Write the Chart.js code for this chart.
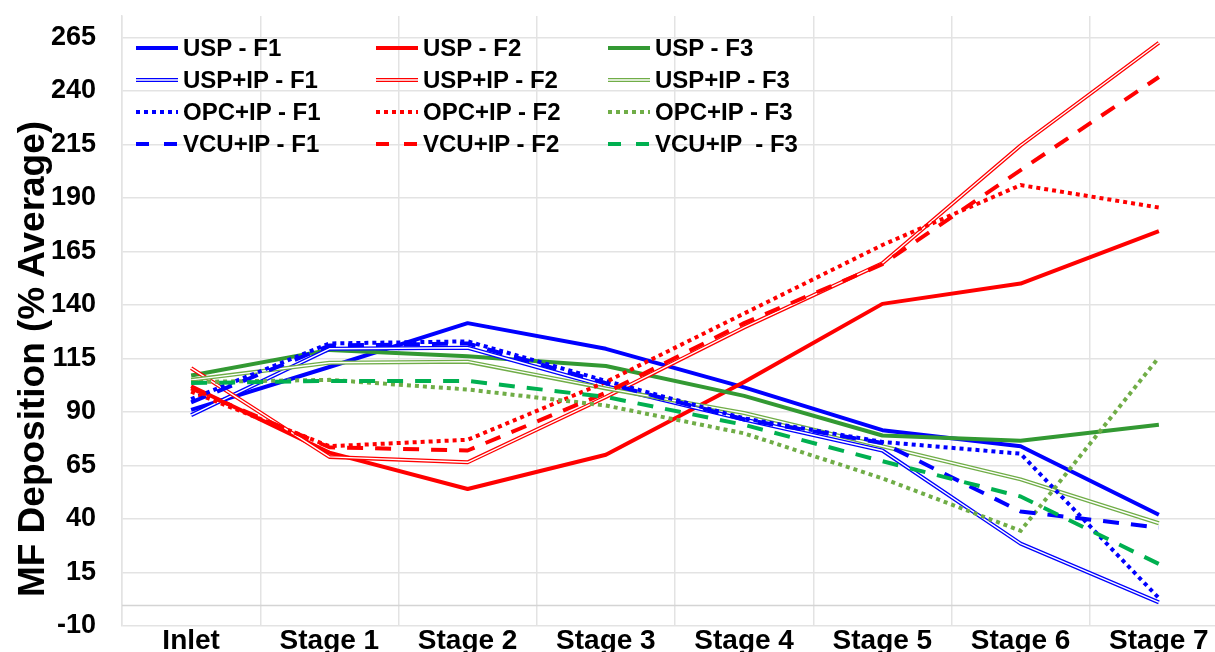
<!DOCTYPE html>
<html>
<head>
<meta charset="utf-8">
<title>MF Deposition</title>
<script src="https://cdn.jsdelivr.net/npm/chart.js@4.4.1/dist/chart.umd.min.js"></script>
<style>
html, body { margin: 0; padding: 0; background: #fff; overflow: hidden; }
#wrap { position: relative; width: 1228px; height: 652px; }
#legend {
    position: absolute; left: 136px; top: 32px;
    display: grid; grid-template-columns: 240px 232px 250px;
    font: bold 24px "Liberation Sans", Arial, sans-serif; color: #000;
}
.item { display: flex; align-items: center; height: 32px; white-space: pre; }
.item svg { margin-right: 5px; }
#ytitle {
    position: absolute; left: -269px; top: 339px; width: 600px; height: 40px;
    line-height: 40px; text-align: center; white-space: nowrap;
    font: bold 37px "Liberation Sans", Arial, sans-serif; color: #000;
    transform: rotate(-90deg);
}
</style>
</head>
<body>
<div id="wrap">
    <canvas id="chart" width="1228" height="652"></canvas>
    <div id="ytitle">MF Deposition (% Average)</div>
    <div id="legend"></div>
</div>
<script>
var stages = ["Inlet", "Stage 1", "Stage 2", "Stage 3", "Stage 4", "Stage 5", "Stage 6", "Stage 7"];
var yTicks = [-10, 15, 40, 65, 90, 115, 140, 165, 190, 215, 240, 265];

var uspF1   = [91, 111, 131.5, 119.5, 101.5, 81.5, 74, 42];
var uspF2   = [102, 71, 54, 70, 104, 140.5, 150, 174.5];
var uspF3   = [107, 119, 116, 111.5, 97.5, 79, 76.5, 84];
var uspIpF1 = [88.5, 119.5, 120, 102, 86.5, 72, 28.5, 1];
var uspIpF2 = [110.5, 69, 66.5, 97, 129.5, 159.5, 214.5, 262.5];
var uspIpF3 = [105, 113, 113.5, 101, 89.5, 74, 58.5, 38];
var opcIpF1 = [96, 122, 123, 104.5, 87, 76, 70.5, 3];
var opcIpF2 = [99.5, 74, 77, 104, 136, 168, 196, 185.5];
var opcIpF3 = [104, 105, 100.5, 93, 80, 59, 34.5, 115.5];
var vcuIpF1 = [94.5, 121, 122, 103.5, 86.5, 75.5, 43.5, 36];
var vcuIpF2 = [101, 73.5, 72, 99, 131.5, 159, 203, 246.5];
var vcuIpF3 = [103.5, 104.5, 104.5, 97, 84, 67, 50.5, 19];

var BLUE = "#0000ff", RED = "#ff0000", GREEN = "#339933", LGREEN = "#70ad47", EGREEN = "#00b050";
var gridColor = "#e3e3e3";

function series(label, data, color, style) {
    var ds = {
        label: label,
        data: data,
        borderColor: color,
        backgroundColor: color,
        borderWidth: 4,
        pointRadius: 0,
        tension: 0,
        borderJoinStyle: "round",
        lineStyle: style
    };
    if (style === "dot") { ds.borderDash = [4, 4]; ds.borderJoinStyle = "miter"; }
    if (style === "dash") { ds.borderDash = [16, 12]; }
    return ds;
}

var datasets = [
    series("USP - F1", uspF1, BLUE, "solid"),
    series("USP - F2", uspF2, RED, "solid"),
    series("USP - F3", uspF3, GREEN, "solid"),
    series("USP+IP - F1", uspIpF1, BLUE, "double"),
    series("USP+IP - F2", uspIpF2, RED, "double"),
    series("USP+IP - F3", uspIpF3, LGREEN, "double"),
    series("OPC+IP - F1", opcIpF1, BLUE, "dot"),
    series("OPC+IP - F2", opcIpF2, RED, "dot"),
    series("OPC+IP - F3", opcIpF3, LGREEN, "dot"),
    series("VCU+IP - F1", vcuIpF1, BLUE, "dash"),
    series("VCU+IP - F2", vcuIpF2, RED, "dash"),
    series("VCU+IP  - F3", vcuIpF3, EGREEN, "dash")
];
// first series at the bottom, like the original
datasets.forEach(function (ds, i) { ds.order = datasets.length - i; });

// white centre stroke makes the "double" lines
var doubleLinePlugin = {
    id: "doubleLine",
    afterDatasetDraw: function (chart, args) {
        var ds = chart.data.datasets[args.index];
        if (ds.lineStyle !== "double") return;
        var pts = args.meta.data;
        var ctx = chart.ctx;
        ctx.save();
        ctx.beginPath();
        for (var i = 0; i < pts.length; i++) {
            if (i === 0) ctx.moveTo(pts[i].x, pts[i].y);
            else ctx.lineTo(pts[i].x, pts[i].y);
        }
        ctx.strokeStyle = "#ffffff";
        ctx.lineWidth = 1.4;
        ctx.lineJoin = "round";
        ctx.stroke();
        ctx.restore();
    }
};

// horizontal axis line crosses at zero
var zeroLinePlugin = {
    id: "zeroLine",
    beforeDatasetsDraw: function (chart) {
        var y = Math.round(chart.scales.y.getPixelForValue(0)) + 0.5;
        var ctx = chart.ctx;
        ctx.save();
        ctx.strokeStyle = "#d4d4d4";
        ctx.lineWidth = 1.5;
        ctx.beginPath();
        ctx.moveTo(chart.chartArea.left, y);
        ctx.lineTo(chart.chartArea.right, y);
        ctx.stroke();
        ctx.restore();
    }
};

Chart.defaults.font.family = '"Liberation Sans", Arial, sans-serif';

function noPadding(axis) {
    axis.paddingTop = 0;
    axis.paddingBottom = 0;
    axis.paddingLeft = 0;
    axis.paddingRight = 0;
}

var chart = new Chart(document.getElementById("chart"), {
    type: "line",
    data: { labels: stages, datasets: datasets },
    plugins: [doubleLinePlugin, zeroLinePlugin],
    options: {
        responsive: false,
        animation: false,
        layout: { padding: { top: 16, left: 0, right: 0, bottom: 0 } },
        plugins: {
            legend: { display: false },
            tooltip: { enabled: false }
        },
        scales: {
            x: {
                offset: true,
                grid: { offset: true, color: gridColor, lineWidth: 1.5, drawTicks: false },
                border: { display: false },
                afterFit: function (axis) { axis.height = 26; noPadding(axis); },
                ticks: {
                    padding: -2,
                    color: "#000",
                    maxRotation: 0,
                    autoSkip: false,
                    font: { size: 28, weight: "bold" }
                }
            },
            y: {
                min: -10,
                max: 275,
                afterBuildTicks: function (axis) {
                    axis.ticks = yTicks.map(function (v) { return { value: v }; });
                },
                afterFit: function (axis) { axis.width = 122; noPadding(axis); },
                grid: { color: gridColor, lineWidth: 1.5, drawTicks: false },
                border: { color: gridColor, width: 1.5 },
                ticks: {
                    padding: 26,
                    color: "#000",
                    font: { size: 27, weight: "bold" }
                }
            }
        }
    }
});

// legend in three columns, samples follow the dataset line styles
var legend = document.getElementById("legend");
datasets.forEach(function (ds) {
    var c = ds.borderColor;
    var line;
    if (ds.lineStyle === "double") {
        line = '<line x1="0" y1="10" x2="42" y2="10" stroke="' + c + '" stroke-width="4"/>' +
               '<line x1="0" y1="10" x2="42" y2="10" stroke="#fff" stroke-width="1.4"/>';
    } else if (ds.lineStyle === "dot") {
        line = '<line x1="0" y1="10" x2="42" y2="10" stroke="' + c + '" stroke-width="4" stroke-dasharray="4 4"/>';
    } else if (ds.lineStyle === "dash") {
        line = '<line x1="0" y1="10" x2="42" y2="10" stroke="' + c + '" stroke-width="4" stroke-dasharray="13 15"/>';
    } else {
        line = '<line x1="0" y1="10" x2="42" y2="10" stroke="' + c + '" stroke-width="4"/>';
    }
    var item = document.createElement("div");
    item.className = "item";
    item.innerHTML = '<svg width="42" height="20">' + line + '</svg><span>' + ds.label + '</span>';
    legend.appendChild(item);
});
</script>
</body>
</html>
